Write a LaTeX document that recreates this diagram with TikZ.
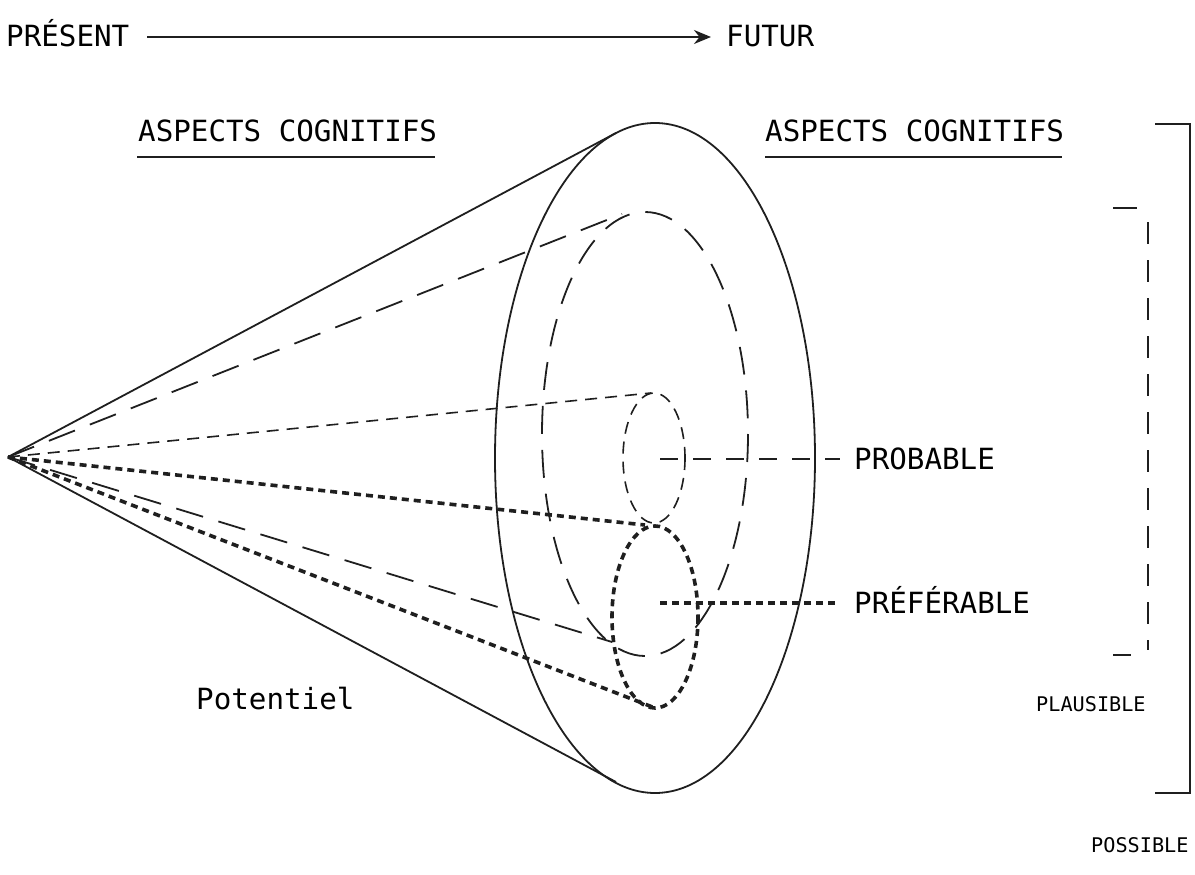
\documentclass[tikz,border=0pt]{standalone}
\usepackage{fontspec}
\setmonofont{DejaVu Sans Mono}
\usetikzlibrary{arrows.meta}
\tikzset{
  lbl/.style={font=\ttfamily\fontsize{29.2}{33}\selectfont, inner sep=0pt, anchor=base west},
  smalllbl/.style={font=\ttfamily\fontsize{20.2}{24}\selectfont, inner sep=0pt, anchor=base west},
  solidline/.style={line width=1.8pt, black!88},
  longdash/.style={line width=1.8pt, black!88, dash pattern=on 28pt off 16pt},
  meddash/.style={line width=1.6pt, black!88, dash pattern=on 12pt off 8pt},
  labdash/.style={line width=1.8pt, black!88, dash pattern=on 18pt off 15pt},
  dotline/.style={line width=3.6pt, black!88, dash pattern=on 7pt off 5pt},
}
\begin{document}
\begin{tikzpicture}[x=1pt,y=-1pt]
\useasboundingbox (0,0) rectangle (1195,875);
% header
\node[lbl] (pres) at (6,47) {PRÉSENT};
\node[lbl] (fut) at (726,47) {FUTUR};
\draw[solidline, -{Stealth[length=17pt,width=14pt]}] (147,37) -- (711,37);
% aspects
\node[lbl] (asp1) at (138,141) {ASPECTS COGNITIFS};
\node[lbl] (asp2) at (765,141) {ASPECTS COGNITIFS};
\draw[solidline] (137,157) -- (435,157);
\draw[solidline] (765,157) -- (1062,157);
% apex
\coordinate (apex) at (8,457);
% big ellipse
\draw[solidline] (655,458) ellipse [x radius=160, y radius=335];
\coordinate (bt) at (616,133);
\coordinate (bb) at (616,782);
\draw[solidline] (apex) -- (bt);
\draw[solidline] (apex) -- (bb);
% middle dashed ellipse
\draw[longdash] (645,434) ellipse [x radius=103, y radius=222];
\coordinate (mt) at (622,214);
\coordinate (mb) at (612,642);
\draw[longdash] (apex) -- (mt);
\draw[longdash] (apex) -- (mb);
% probable ellipse
\draw[meddash] (654,458) ellipse [x radius=31, y radius=65];
\coordinate (pt) at (651,393);
\draw[meddash] (apex) -- (pt);
\coordinate (pc) at (660,459);
\coordinate (pe) at (840,459);
\draw[labdash] (pc) -- (pe);
\node[lbl] (prob) at (854,469) {PROBABLE};
% preferable ellipse
\draw[dotline] (655,617) ellipse [x radius=43, y radius=91];
\coordinate (ft) at (645,525);
\coordinate (fb) at (655,708);
\draw[dotline] (apex) -- (ft);
\draw[dotline] (apex) -- (fb);
\coordinate (fc) at (660,603);
\coordinate (fe) at (836,603);
\draw[dotline] (fc) -- (fe);
\node[lbl] (pref) at (854,613) {PRÉFÉRABLE};
% potentiel
\node[lbl] (pot) at (196,709) {Potentiel};
% plausible bracket
\draw[solidline] (1113,208) -- (1137,208);
\draw[solidline] (1113,655) -- (1131,655);
\draw[line width=1.8pt, black!88, dash pattern=on 22pt off 16pt] (1148,222) -- (1148,650);
\node[smalllbl] (plaus) at (1036,711) {PLAUSIBLE};
% possible bracket
\draw[solidline] (1155,124) -- (1190,124) -- (1190,793) -- (1155,793);
\node[smalllbl] (poss) at (1091,852) {POSSIBLE};
\end{tikzpicture}
\end{document}
